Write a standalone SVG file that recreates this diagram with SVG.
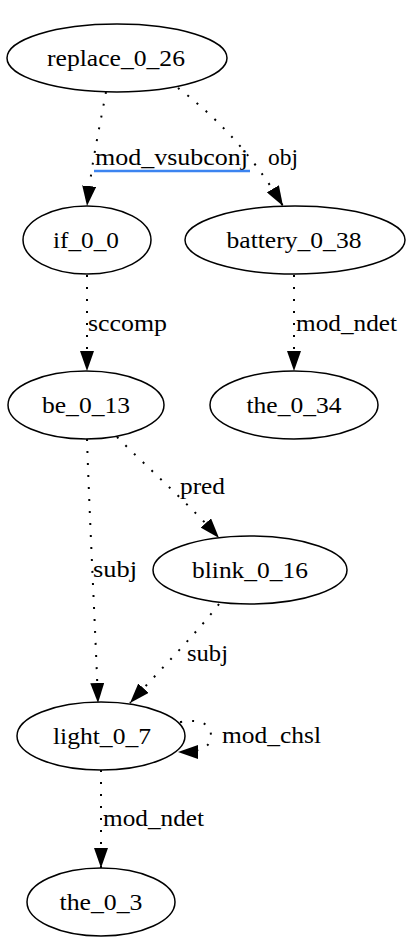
<svg xmlns="http://www.w3.org/2000/svg" width="415" height="943" viewBox="0 0 415 943">
<defs>
<style>
.node ellipse{fill:#fff;stroke:#000;stroke-width:1.5}
text{font-family:"Liberation Serif","Times New Roman",serif;font-size:23px;fill:#000}
.node text{text-anchor:middle}
.edge path{fill:none;stroke:#000;stroke-width:2;stroke-dasharray:2,10}
</style>
<marker id="ah" markerUnits="userSpaceOnUse" markerWidth="20" markerHeight="14" refX="20" refY="7" orient="auto">
<path d="M0,0 L20,7 L0,14 Z" fill="#000"/>
</marker>
</defs>
<rect width="415" height="943" fill="#fff"/>
<g id="edges">
<g class="edge"><path d="M106,92 C101,120 92,160 87,206" marker-end="url(#ah)"/><text x="95" y="165" textLength="153" lengthAdjust="spacingAndGlyphs">mod_vsubconj</text><line x1="94" y1="171" x2="250" y2="171" stroke="#3c84f0" stroke-width="2.5"/></g>
<g class="edge"><path d="M178,88 C210,112 250,150 283,206" marker-end="url(#ah)"/><text x="268" y="165" textLength="30" lengthAdjust="spacingAndGlyphs">obj</text></g>
<g class="edge"><path d="M87,275 L87,371" marker-end="url(#ah)"/><text x="88" y="331" textLength="79" lengthAdjust="spacingAndGlyphs">sccomp</text></g>
<g class="edge"><path d="M294,275 L294,371" marker-end="url(#ah)"/><text x="296" y="331" textLength="101" lengthAdjust="spacingAndGlyphs">mod_ndet</text></g>
<g class="edge"><path d="M117,437 C150,470 190,505 219,538" marker-end="url(#ah)"/><text x="180" y="494" textLength="45" lengthAdjust="spacingAndGlyphs">pred</text></g>
<g class="edge"><path d="M87,439 C90,530 95,620 98,703" marker-end="url(#ah)"/><text x="93" y="577" textLength="44" lengthAdjust="spacingAndGlyphs">subj</text></g>
<g class="edge"><path d="M219,604 C195,635 160,670 130,703" marker-end="url(#ah)"/><text x="187" y="661" textLength="41" lengthAdjust="spacingAndGlyphs">subj</text></g>
<g class="edge"><path d="M180,722 C205,718 211,727 211,736 C211,746 203,752 178,752" marker-end="url(#ah)"/><text x="222" y="743" textLength="99" lengthAdjust="spacingAndGlyphs">mod_chsl</text></g>
<g class="edge"><path d="M101,770 L101,868" marker-end="url(#ah)"/><text x="103" y="826" textLength="101" lengthAdjust="spacingAndGlyphs">mod_ndet</text></g>
</g>
<g id="replace_0_26" class="node"><ellipse cx="117" cy="58" rx="110" ry="34"/><text x="116" y="66" textLength="138" lengthAdjust="spacingAndGlyphs">replace_0_26</text></g>
<g id="if_0_0" class="node"><ellipse cx="87" cy="240" rx="64" ry="34"/><text x="86" y="248" textLength="66" lengthAdjust="spacingAndGlyphs">if_0_0</text></g>
<g id="battery_0_38" class="node"><ellipse cx="295" cy="240" rx="110" ry="34"/><text x="294" y="248" textLength="135" lengthAdjust="spacingAndGlyphs">battery_0_38</text></g>
<g id="be_0_13" class="node"><ellipse cx="86" cy="405" rx="78" ry="34"/><text x="86" y="413" textLength="88" lengthAdjust="spacingAndGlyphs">be_0_13</text></g>
<g id="the_0_34" class="node"><ellipse cx="294" cy="405" rx="84" ry="34"/><text x="294" y="413" textLength="95" lengthAdjust="spacingAndGlyphs">the_0_34</text></g>
<g id="blink_0_16" class="node"><ellipse cx="250" cy="570" rx="97" ry="34"/><text x="250" y="578" textLength="116" lengthAdjust="spacingAndGlyphs">blink_0_16</text></g>
<g id="light_0_7" class="node"><ellipse cx="101" cy="736" rx="84" ry="34"/><text x="102" y="744" textLength="98" lengthAdjust="spacingAndGlyphs">light_0_7</text></g>
<g id="the_0_3" class="node"><ellipse cx="101" cy="902" rx="74" ry="34"/><text x="101" y="910" textLength="83" lengthAdjust="spacingAndGlyphs">the_0_3</text></g>
</svg>
